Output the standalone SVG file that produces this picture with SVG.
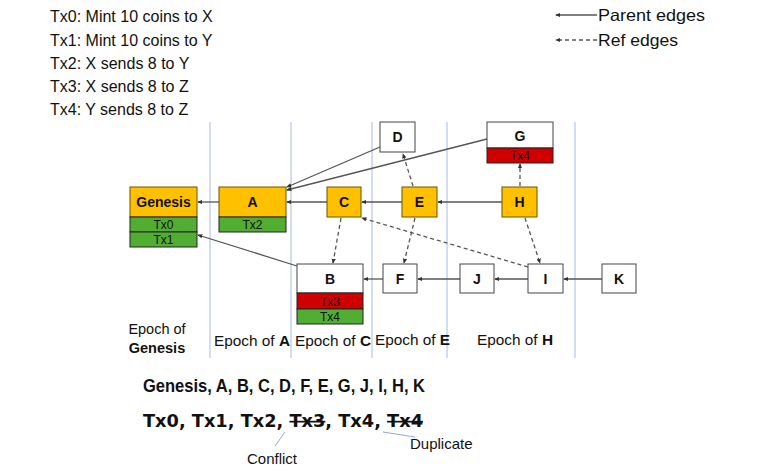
<svg xmlns="http://www.w3.org/2000/svg" width="782" height="467" viewBox="0 0 782 467">
<defs>
<style>
text{font-family:"Liberation Sans",Arial,sans-serif;fill:#111}
.t16{font-size:16px}
.lg{font-size:16.5px}
.ep{font-size:14.5px}
.cm{font-size:15px}
.lbl{font-size:14px;font-weight:bold;text-anchor:middle}
.tx{font-size:12px;text-anchor:middle}
.big{font-size:18.5px;font-weight:bold}
.big2{font-family:"DejaVu Sans",Verdana,sans-serif;font-size:17px;font-weight:bold}
.org{fill:#FFC000;stroke:#6b5200;stroke-width:1}
.grn{fill:#52AE32;stroke:#222;stroke-width:1}
.red{fill:#D10000;stroke:#222;stroke-width:1}
.wht{fill:#fff;stroke:#444;stroke-width:1}
.vl{stroke:#B4C7E7;stroke-width:1.2}
.pe{stroke:#555;stroke-width:1.3;fill:none;marker-end:url(#ah)}
.re{stroke:#555;stroke-width:1.3;fill:none;stroke-dasharray:4,3;marker-end:url(#ah)}
.bl{stroke:#8EA9DB;stroke-width:1}
</style>
<marker id="ah" viewBox="0 0 6 6" refX="5" refY="3" markerWidth="4" markerHeight="4" orient="auto" markerUnits="strokeWidth">
<path d="M0,0.5 L6,3 L0,5.5 z" fill="#333"/>
</marker>
</defs>
<rect width="782" height="467" fill="#fff"/>

<g id="tx-list">
<text class="t16" x="50" y="22">Tx0: Mint 10 coins to X</text>
<text class="t16" x="50" y="46">Tx1: Mint 10 coins to Y</text>
<text class="t16" x="50" y="69">Tx2: X sends 8 to Y</text>
<text class="t16" x="50" y="92">Tx3: X sends 8 to Z</text>
<text class="t16" x="50" y="115">Tx4: Y sends 8 to Z</text>
</g>

<g id="legend">
<line class="pe" x1="597" y1="15" x2="556" y2="15"/>
<line class="re" x1="597" y1="40" x2="556" y2="40"/>
<text class="lg" x="598" y="21" textLength="107" lengthAdjust="spacingAndGlyphs">Parent edges</text>
<text class="lg" x="598" y="46" textLength="80" lengthAdjust="spacingAndGlyphs">Ref edges</text>
</g>

<g id="epoch-lines">
<line class="vl" x1="210" y1="122" x2="210" y2="358"/>
<line class="vl" x1="291" y1="122" x2="291" y2="358"/>
<line class="vl" x1="372" y1="122" x2="372" y2="358"/>
<line class="vl" x1="447" y1="122" x2="447" y2="358"/>
<line class="vl" x1="575" y1="122" x2="575" y2="358"/>
</g>

<g id="connectors">
<line class="pe" x1="219" y1="202" x2="198" y2="202"/>
<line class="pe" x1="327" y1="202" x2="287" y2="202"/>
<line class="pe" x1="402" y1="202" x2="362" y2="202"/>
<line class="pe" x1="502" y1="202" x2="438" y2="202"/>
<line class="pe" x1="380" y1="147" x2="287" y2="187"/>
<line class="pe" x1="487" y1="139" x2="287" y2="190"/>
<line class="pe" x1="297" y1="266" x2="198" y2="235"/>
<line class="pe" x1="383" y1="279" x2="364" y2="279"/>
<line class="pe" x1="460" y1="279" x2="418" y2="279"/>
<line class="pe" x1="528" y1="279" x2="495" y2="279"/>
<line class="pe" x1="602" y1="279" x2="564" y2="279"/>
<line class="re" x1="341" y1="218" x2="333" y2="263"/>
<line class="re" x1="415" y1="218" x2="404" y2="263"/>
<line class="re" x1="525" y1="218" x2="540" y2="263"/>
<line class="re" x1="528" y1="267" x2="362" y2="218"/>
<line class="re" x1="413" y1="186" x2="403" y2="154"/>
<line class="re" x1="520" y1="186" x2="520" y2="164"/>
</g>

<g id="node-genesis">
<rect class="org" x="130" y="187" width="67" height="30"/>
<rect class="grn" x="130" y="217" width="67" height="15"/>
<rect class="grn" x="130" y="232" width="67" height="15"/>
<text class="lbl" x="163.5" y="207">Genesis</text>
<text class="tx" x="163.5" y="229">Tx0</text>
<text class="tx" x="163.5" y="244">Tx1</text>
</g>
<g id="node-a">
<rect class="org" x="219" y="187" width="67" height="30"/>
<rect class="grn" x="219" y="217" width="67" height="15"/>
<text class="lbl" x="252.5" y="207">A</text>
<text class="tx" x="252.5" y="229">Tx2</text>
</g>
<g id="node-c">
<rect class="org" x="327" y="187" width="34" height="30"/>
<text class="lbl" x="344" y="207">C</text>
</g>
<g id="node-e">
<rect class="org" x="402" y="187" width="35" height="30"/>
<text class="lbl" x="419.5" y="207">E</text>
</g>
<g id="node-h">
<rect class="org" x="502" y="187" width="35" height="30"/>
<text class="lbl" x="519.5" y="207">H</text>
</g>
<g id="node-d">
<rect class="wht" x="380" y="122" width="35" height="30"/>
<text class="lbl" x="397.5" y="142">D</text>
</g>
<g id="node-g">
<rect class="wht" x="487" y="122" width="66" height="26"/>
<rect class="red" x="487" y="148" width="66" height="15"/>
<text class="lbl" x="520" y="141">G</text>
<text class="tx" x="520" y="160">Tx4</text>
</g>
<g id="node-b">
<rect class="wht" x="297" y="264" width="66" height="29"/>
<rect class="red" x="297" y="293" width="66" height="16"/>
<rect class="grn" x="297" y="309" width="66" height="15"/>
<text class="lbl" x="330" y="283.5">B</text>
<text class="tx" x="330" y="305.5">Tx3</text>
<text class="tx" x="330" y="321">Tx4</text>
</g>
<g id="node-f">
<rect class="wht" x="383" y="264" width="34" height="29"/>
<text class="lbl" x="400" y="283.5">F</text>
</g>
<g id="node-j">
<rect class="wht" x="460" y="264" width="34" height="29"/>
<text class="lbl" x="477" y="283.5">J</text>
</g>
<g id="node-i">
<rect class="wht" x="528" y="264" width="35" height="29"/>
<text class="lbl" x="545.5" y="283.5">I</text>
</g>
<g id="node-k">
<rect class="wht" x="602" y="264" width="34" height="29"/>
<text class="lbl" x="619" y="283.5">K</text>
</g>

<g id="epoch-labels">
<text class="ep" x="157" y="334" text-anchor="middle">Epoch of</text>
<text class="ep" x="157" y="353" text-anchor="middle" font-weight="bold">Genesis</text>
<text class="ep" x="214" y="346" textLength="76" lengthAdjust="spacingAndGlyphs">Epoch of <tspan font-weight="bold">A</tspan></text>
<text class="ep" x="295" y="346" textLength="76" lengthAdjust="spacingAndGlyphs">Epoch of <tspan font-weight="bold">C</tspan></text>
<text class="ep" x="375" y="345" textLength="75" lengthAdjust="spacingAndGlyphs">Epoch of <tspan font-weight="bold">E</tspan></text>
<text class="ep" x="477" y="345" textLength="76" lengthAdjust="spacingAndGlyphs">Epoch of <tspan font-weight="bold">H</tspan></text>
</g>

<g id="order">
<text class="big" x="143" y="392" textLength="282" lengthAdjust="spacingAndGlyphs">Genesis, A, B, C, D, F, E, G, J, I, H, K</text>
<text class="big2" x="143" y="427" textLength="280" lengthAdjust="spacingAndGlyphs">Tx0, Tx1, Tx2, <tspan text-decoration="line-through">Tx3</tspan>, Tx4, <tspan text-decoration="line-through">Tx4</tspan></text>
<line class="bl" x1="285" y1="432" x2="275" y2="446"/>
<line class="bl" x1="383" y1="432" x2="415" y2="437"/>
<text class="cm" x="247" y="464">Conflict</text>
<text class="cm" x="410" y="449">Duplicate</text>
</g>
</svg>
